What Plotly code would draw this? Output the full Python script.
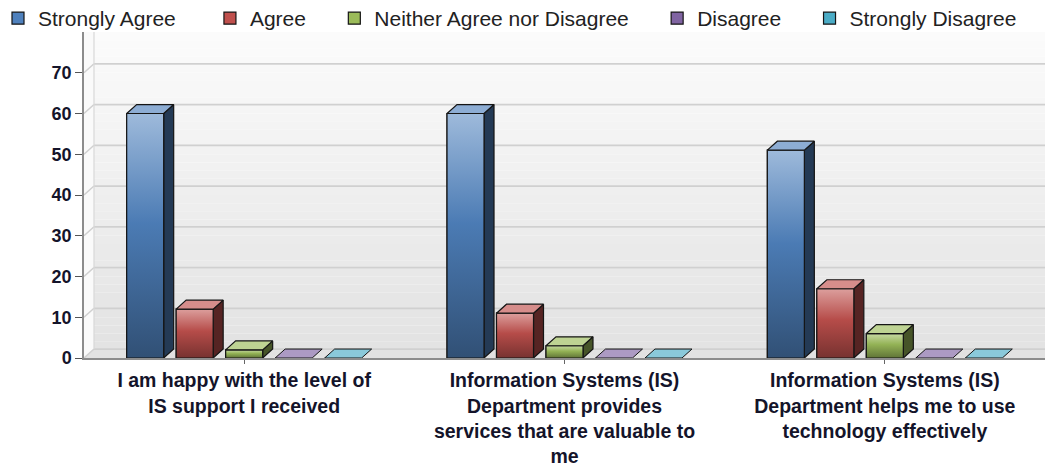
import plotly.graph_objects as go

# ---------------- data ----------------
categories = [
    "I am happy with the level of<br>IS support I received",
    "Information Systems (IS)<br>Department provides<br>services that are valuable to<br>me",
    "Information Systems (IS)<br>Department helps me to use<br>technology effectively",
]
series_names = ["Strongly Agree", "Agree", "Neither Agree nor Disagree", "Disagree", "Strongly Disagree"]
strongly_agree = [60, 60, 51]
agree = [12, 11, 17]
neither = [2, 3, 6]
disagree = [0, 0, 0]
strongly_disagree = [0, 0, 0]
y_ticks = [0, 10, 20, 30, 40, 50, 60, 70]

series_values = [strongly_agree, agree, neither, disagree, strongly_disagree]
colors = ["#4F81BD", "#C0504D", "#9BBB59", "#8064A2", "#4BACC6"]

# ---------------- style constants ----------------
BAR_PITCH = 0.1545
BAR_W = 0.1155
DX = 0.0312      # 3D depth, x data units
DY = 2.2         # 3D depth, y data units
Y_MAX = 80
X_MIN, X_MAX = -0.5, 2.5
OUTLINE = "#151515"
FONT = "Arial, Liberation Sans, sans-serif"
LEGEND_PAD = [5, 4, 4, 4, 0]   # extra spacing after legend entries (non-breaking spaces)


def hex_rgb(h):
    return int(h[1:3], 16), int(h[3:5], 16), int(h[5:7], 16)


def mix(h, t, target=(255, 255, 255)):
    r, g, b = hex_rgb(h)
    return "rgb(%d,%d,%d)" % (
        round(r + (target[0] - r) * t),
        round(g + (target[1] - g) * t),
        round(b + (target[2] - b) * t),
    )


fig = go.Figure()

# data traces (front faces, legend, hover)
for j, (name, vals, col) in enumerate(zip(series_names, series_values, colors)):
    xs = [i + (j - 2) * BAR_PITCH for i in range(len(categories))]
    fig.add_trace(go.Bar(
        x=xs, y=vals, width=BAR_W, name=name + "\u00a0" * LEGEND_PAD[j],
        marker=dict(color=col, line=dict(color=OUTLINE, width=1.2)),
        hovertemplate=name + ": %{y}<extra></extra>",
    ))

# 3D decorations computed from the data
for j, (vals, col) in enumerate(zip(series_values, colors)):
    for i, v in enumerate(vals):
        xc = i + (j - 2) * BAR_PITCH
        xl, xr = xc - BAR_W / 2, xc + BAR_W / 2
        if v > 0:
            # right side face
            fig.add_trace(go.Scatter(
                x=[xr, xr + DX, xr + DX, xr, xr], y=[0, DY, v + DY, v, 0],
                fill="toself", mode="lines", fillcolor=mix(col, 0.55, (0, 0, 0)),
                line=dict(color=OUTLINE, width=1.2), hoverinfo="skip", showlegend=False,
            ))
            # front face with vertical gradient
            fig.add_trace(go.Scatter(
                x=[xl, xr, xr, xl, xl], y=[0, 0, v, v, 0],
                fill="toself", mode="lines",
                fillgradient=dict(type="vertical", start=0, stop=v,
                                  colorscale=[[0, mix(col, 0.38, (0, 0, 0))],
                                              [0.55, mix(col, 0.05, (0, 0, 0))],
                                              [1, mix(col, 0.45)]]),
                line=dict(color=OUTLINE, width=1.2), hoverinfo="skip", showlegend=False,
            ))
        # top face
        fig.add_trace(go.Scatter(
            x=[xl, xr, xr + DX, xl + DX, xl], y=[v, v, v + DY, v + DY, v],
            fill="toself", mode="lines", fillcolor=mix(col, 0.35),
            line=dict(color=OUTLINE, width=1.2 if v > 0 else 1.0),
            hoverinfo="skip", showlegend=False,
        ))

# back wall gradient (bands) and 3D gridlines as background shapes
shapes = []
N_BANDS = 40
for k in range(N_BANDS):
    y0 = Y_MAX * k / N_BANDS
    y1 = Y_MAX * (k + 1) / N_BANDS
    t = k / (N_BANDS - 1)
    g = round(0xe2 + (0xfb - 0xe2) * t)
    shapes.append(dict(type="rect", xref="x", yref="y", x0=X_MIN, x1=X_MAX, y0=y0, y1=y1,
                       fillcolor="rgb(%d,%d,%d)" % (g, g, g), line=dict(width=0), layer="below"))
# light left side wall strip
shapes.append(dict(type="path", xref="x", yref="y",
                   path="M %f,0 L %f,%f L %f,%f L %f,%f Z" % (X_MIN, X_MIN + DX, DY, X_MIN + DX, Y_MAX, X_MIN, Y_MAX),
                   fillcolor="rgb(250,250,250)", line=dict(width=0), layer="below"))
for v in y_ticks:
    shapes.append(dict(type="line", xref="x", yref="y", x0=X_MIN, y0=v, x1=X_MIN + DX, y1=v + DY,
                       line=dict(color="#d0d0d0", width=1.5), layer="below"))
    shapes.append(dict(type="line", xref="x", yref="y", x0=X_MIN + DX, y0=v + DY, x1=X_MAX, y1=v + DY,
                       line=dict(color="#d0d0d0", width=1.8), layer="below"))
shapes.append(dict(type="line", xref="x", yref="y", x0=X_MIN + DX, y0=DY, x1=X_MIN + DX, y1=Y_MAX,
                   line=dict(color="#d8d8d8", width=1.2), layer="below"))

fig.update_layout(
    width=1049, height=468,
    margin=dict(l=84, r=4, t=32, b=110, autoexpand=False),
    paper_bgcolor="white", plot_bgcolor="white",
    barmode="overlay",
    font=dict(family=FONT, color="#14142a"),
    shapes=shapes,
    legend=dict(orientation="h", xref="paper", yref="paper",
                x=(-2 - 84) / 961, y=(358 + 2) / 326,
                xanchor="left", yanchor="top", font=dict(size=21, color="#222222"),
                bgcolor="rgba(0,0,0,0)"),
    showlegend=True,
)
fig.update_xaxes(range=[X_MIN, X_MAX], tickvals=[0, 1, 2], ticktext=categories,
                 ticks="outside", ticklen=4, tickcolor="#666666",
                 showline=True, linecolor="#8c8c8c", linewidth=1.5,
                 showgrid=False, zeroline=False, automargin=False,
                 tickfont=dict(size=19.5, color="#14142a", family=FONT, weight="bold"))
fig.update_yaxes(range=[0, Y_MAX], tickvals=y_ticks,
                 ticks="outside", ticklen=7, tickcolor="#555555",
                 showline=True, linecolor="#8c8c8c", linewidth=1.5,
                 showgrid=False, zeroline=False, automargin=False,
                 tickfont=dict(size=18, color="#14142a", family=FONT, weight="bold"))

fig.write_html("out.html", config={"displayModeBar": False},
               post_script="document.body.style.margin='0px';")
